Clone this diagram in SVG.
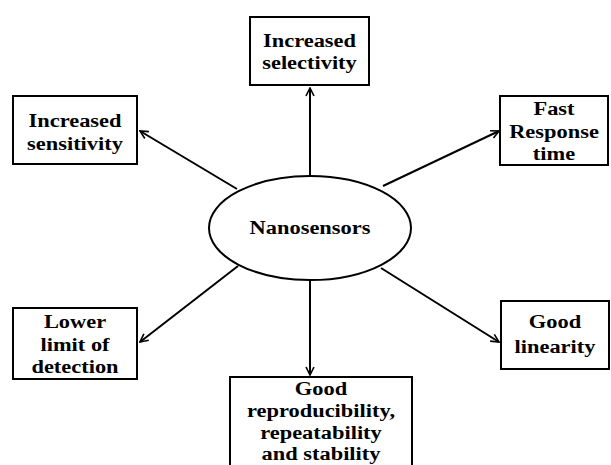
<svg xmlns="http://www.w3.org/2000/svg" width="611" height="465" viewBox="0 0 611 465">
<style>
.box{fill:#fff;stroke:#000;stroke-width:2}
.t{font-family:"Liberation Serif","Times New Roman",serif;font-weight:bold;font-size:19.5px;text-anchor:middle;fill:#000}
.c{stroke:#000;stroke-width:2;fill:none;marker-end:url(#ah)}
</style>
<defs>
<marker id="ah" viewBox="0 0 10 10" refX="9" refY="5" markerWidth="5" markerHeight="5" orient="auto" markerUnits="strokeWidth">
<path d="M1,1 L9,5 L1,9" fill="none" stroke="#000" stroke-width="1.6"/>
</marker>
</defs>
<rect width="611" height="465" fill="#fff"/>
<g id="connectors">
<line class="c" x1="310" y1="176" x2="310" y2="88"/>
<line class="c" x1="237" y1="189" x2="140" y2="131"/>
<line class="c" x1="383" y1="186" x2="499" y2="131"/>
<line class="c" x1="238" y1="266" x2="140" y2="342"/>
<line class="c" x1="381" y1="268" x2="499" y2="342"/>
<line class="c" x1="310" y1="281" x2="310" y2="375"/>
</g>
<g id="center">
<ellipse cx="310" cy="228" rx="101" ry="52" fill="#fff" stroke="#000" stroke-width="2"/>
<text class="t" transform="translate(310,234) scale(1.15,1)">Nanosensors</text>
</g>
<g id="selectivity">
<rect class="box" x="250" y="17" width="119" height="68"/>
<text class="t" transform="translate(309.5,47) scale(1.15,1)">Increased</text>
<text class="t" transform="translate(309.5,69) scale(1.15,1)">selectivity</text>
</g>
<g id="sensitivity">
<rect class="box" x="13" y="96" width="124" height="68"/>
<text class="t" transform="translate(75,127) scale(1.15,1)">Increased</text>
<text class="t" transform="translate(75,150) scale(1.15,1)">sensitivity</text>
</g>
<g id="response">
<rect class="box" x="500" y="96" width="108" height="69"/>
<text class="t" transform="translate(554,115) scale(1.15,1)">Fast</text>
<text class="t" transform="translate(554,138) scale(1.15,1)">Response</text>
<text class="t" transform="translate(554,160) scale(1.15,1)">time</text>
</g>
<g id="detection">
<rect class="box" x="13" y="308" width="124" height="71"/>
<text class="t" transform="translate(75,328) scale(1.15,1)">Lower</text>
<text class="t" transform="translate(75,351) scale(1.15,1)">limit of</text>
<text class="t" transform="translate(75,373) scale(1.15,1)">detection</text>
</g>
<g id="linearity">
<rect class="box" x="501" y="301" width="108" height="68"/>
<text class="t" transform="translate(555,328) scale(1.15,1)">Good</text>
<text class="t" transform="translate(555,353) scale(1.15,1)">linearity</text>
</g>
<g id="reproducibility">
<rect class="box" x="230" y="377" width="182" height="100"/>
<text class="t" transform="translate(321,395) scale(1.15,1)">Good</text>
<text class="t" transform="translate(321,417) scale(1.15,1)">reproducibility,</text>
<text class="t" transform="translate(321,439) scale(1.15,1)">repeatability</text>
<text class="t" transform="translate(321,460) scale(1.15,1)">and stability</text>
</g>
</svg>
